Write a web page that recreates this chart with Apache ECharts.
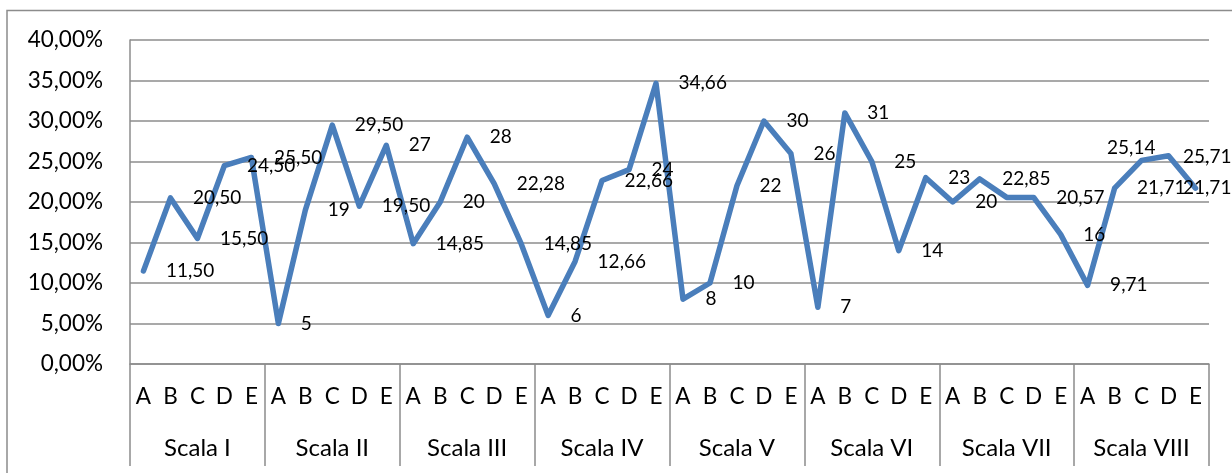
<!DOCTYPE html>
<html>
<head>
<meta charset="utf-8">
<title>Scale A–E</title>
<script src="https://cdn.jsdelivr.net/npm/echarts@6.0.0/dist/echarts.min.js"></script>
<style>
  html, body { margin: 0; padding: 0; background: #ffffff; }
  #chart { width: 1232px; height: 473px; }
</style>
</head>
<body>
<div id="chart"></div>
<script>
// Groups on the outer category level and items on the inner level
const scales = ['Scala I', 'Scala II', 'Scala III', 'Scala IV', 'Scala V', 'Scala VI', 'Scala VII', 'Scala VIII'];
const items = ['A', 'B', 'C', 'D', 'E'];

// Percentages for items A–E of each scale
const scalaI    = [11.5, 20.5, 15.5, 24.5, 25.5];
const scalaII   = [5, 19, 29.5, 19.5, 27];
const scalaIII  = [14.85, 20, 28, 22.28, 14.85];
const scalaIV   = [6, 12.66, 22.66, 24, 34.66];
const scalaV    = [8, 10, 22, 30, 26];
const scalaVI   = [7, 31, 25, 14, 23];
const scalaVII  = [20, 22.85, 20.57, 20.57, 16];
const scalaVIII = [9.71, 21.71, 25.14, 25.71, 21.71];

// Value axis ticks (percent)
const yMin = 0;
const yMax = 40;
const yStep = 5;

const values = [].concat(scalaI, scalaII, scalaIII, scalaIV, scalaV, scalaVI, scalaVII, scalaVIII);
const categories = [];
scales.forEach(s => items.forEach(it => categories.push(s + '|' + it)));

const FONT = 'Lato, "Open Sans", sans-serif';
const GRAY = '#8c8c8c';
const comma = s => s.replace('.', ',');
const fmtValue = v => Number.isInteger(v) ? String(v) : comma(v.toFixed(2));

// Label adjustments for the crowded end of the line
const labelTweaks = {
  32: { show: false },
  37: { offset: [-57, -12] },
  38: { offset: [-8, 1] },
  39: { offset: [-35, 0] }
};

const seriesData = values.map((v, i) => labelTweaks[i] ? { value: v, label: labelTweaks[i] } : v);

const chart = echarts.init(document.getElementById('chart'), null, { renderer: 'canvas' });
chart.setOption({
  animation: false,
  backgroundColor: '#ffffff',
  grid: { left: 130, right: 23, top: 40, bottom: 109, containLabel: false },
  graphic: [{
    type: 'polyline',
    shape: { points: [[7, 473], [7, 10.5], [1232, 10.5]] },
    style: { stroke: GRAY, lineWidth: 1.5, fill: null },
    silent: true
  }],
  xAxis: [{
    type: 'category',
    data: categories,
    position: 'bottom',
    axisLine: { show: true, lineStyle: { color: GRAY, width: 1.5 } },
    axisTick: { show: false },
    splitLine: { show: false },
    axisLabel: {
      interval: 0,
      margin: 21,
      color: '#000',
      fontFamily: FONT,
      fontSize: 22.5,
      formatter: v => v.split('|')[1]
    }
  }, {
    type: 'category',
    data: scales,
    position: 'bottom',
    axisLine: { show: false },
    axisTick: { show: true, interval: 0, length: 102, lineStyle: { color: GRAY, width: 1.5 } },
    splitLine: { show: false },
    axisLabel: {
      interval: 0,
      margin: 72,
      color: '#000',
      fontFamily: FONT,
      fontSize: 24
    }
  }],
  yAxis: {
    type: 'value',
    min: yMin,
    max: yMax,
    interval: yStep,
    axisLine: { show: true, lineStyle: { color: GRAY, width: 1.5 } },
    axisTick: { show: false },
    splitLine: { show: true, lineStyle: { color: GRAY, width: 1.5 } },
    axisLabel: {
      margin: 27,
      color: '#000',
      fontFamily: FONT,
      fontSize: 22.5,
      formatter: v => comma(v.toFixed(2)) + '%'
    }
  },
  series: [{
    type: 'line',
    xAxisIndex: 0,
    yAxisIndex: 0,
    data: seriesData,
    symbol: 'circle',
    symbolSize: 1,
    showSymbol: true,
    itemStyle: { color: '#4a7ebb' },
    lineStyle: { color: '#4a7ebb', width: 5.5, cap: 'round', join: 'round' },
    label: {
      show: true,
      position: 'right',
      distance: 22,
      color: '#000',
      fontFamily: FONT,
      fontSize: 19,
      formatter: p => fmtValue(p.value)
    },
    emphasis: { disabled: true }
  }]
});
</script>
</body>
</html>
